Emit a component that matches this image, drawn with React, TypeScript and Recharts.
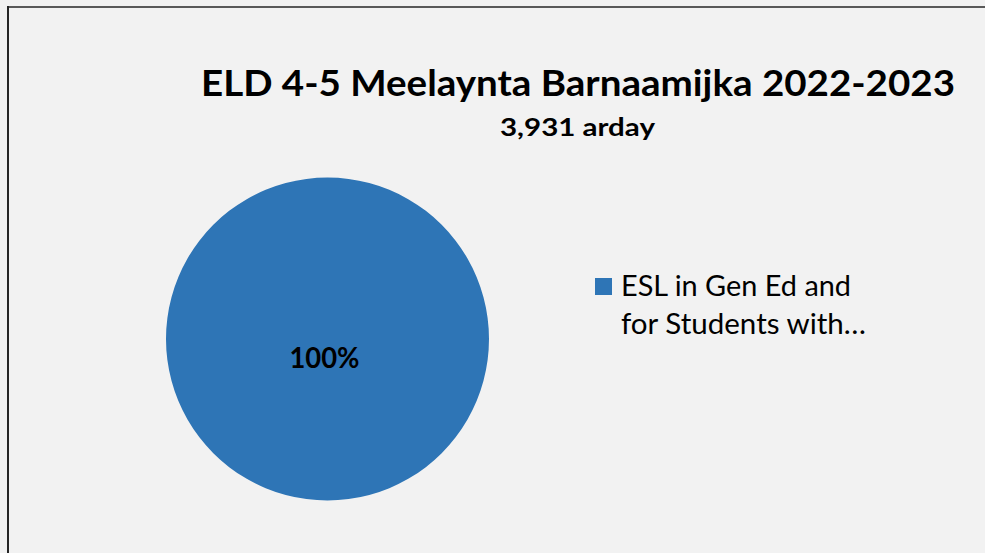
import { PieChart, Pie, Cell, Legend } from 'recharts';

const title = 'ELD 4-5 Meelaynta Barnaamijka 2022-2023';
const subtitle = '3,931 arday';
const categories = ['ESL in Gen Ed and for Students with…'];
const legendLines = ['ESL in Gen Ed and', 'for Students with…'];
const values = [3931];
const colors = ['#2E75B6'];

const data = categories.map((name, i) => ({ name, value: values[i] }));

const FONT = 'Lato, Carlito, Calibri, "Open Sans", sans-serif';
const RAD = Math.PI / 180;

function PctLabel(props: any) {
  const { cx, cy, midAngle, percent } = props;
  const r = 18;
  const x = cx + r * Math.cos(-midAngle * RAD) - 3;
  const y = cy + r * Math.sin(-midAngle * RAD);
  return (
    <text
      x={x}
      y={y}
      textAnchor="middle"
      dominantBaseline="central"
      fontFamily={FONT}
      fontWeight={700}
      fontSize={28}
      fill="#000"
      textLength={70}
      lengthAdjust="spacingAndGlyphs"
    >
      {`${Math.round(percent * 100)}%`}
    </text>
  );
}

function LegendBox() {
  return (
    <svg width={360} height={90} style={{ display: 'block', overflow: 'visible' }}>
      <rect x={5} y={8} width={17} height={17} fill={colors[0]} />
      <text x={31} y={26} fontFamily={FONT} fontSize={28} fill="#000" textLength={230} lengthAdjust="spacingAndGlyphs">
        {legendLines[0]}
      </text>
      <text x={31} y={64} fontFamily={FONT} fontSize={28} fill="#000" textLength={245} lengthAdjust="spacingAndGlyphs">
        {legendLines[1]}
      </text>
    </svg>
  );
}

export default function App() {
  return (
    <div style={{ position: 'fixed', left: 0, top: 0, width: 985, height: 553, background: '#f2f2f2', overflow: 'hidden' }}>
      <div style={{ position: 'absolute', left: 0, top: 0 }}>
        <PieChart width={985} height={553} margin={{ top: 0, right: 0, bottom: 0, left: 0 }}>
          <Pie
            data={data}
            dataKey="value"
            nameKey="name"
            cx={327.5}
            cy={339}
            outerRadius={161.5}
            startAngle={90}
            endAngle={-270}
            stroke="none"
            label={PctLabel}
            labelLine={false}
            isAnimationActive={false}
          >
            {data.map((d, i) => (
              <Cell key={d.name} fill={colors[i]} />
            ))}
          </Pie>
          <Legend
            layout="vertical"
            content={() => <LegendBox />}
            wrapperStyle={{ position: 'absolute', left: 590, top: 270, width: 360 }}
          />
        </PieChart>
      </div>
      <svg width={985} height={553} style={{ position: 'absolute', left: 0, top: 0, pointerEvents: 'none' }}>
        <line x1={7} y1={7} x2={985} y2={7} stroke="#595959" strokeWidth={2} />
        <line x1={8} y1={6} x2={8} y2={553} stroke="#262626" strokeWidth={2} />
        <text x={578} y={96} textAnchor="middle" fontFamily={FONT} fontWeight={700} fontSize={36} fill="#000" textLength={754} lengthAdjust="spacingAndGlyphs">
          {title}
        </text>
        <text x={577.5} y={136} textAnchor="middle" fontFamily={FONT} fontWeight={700} fontSize={25} fill="#000" textLength={155} lengthAdjust="spacingAndGlyphs">
          {subtitle}
        </text>
      </svg>
    </div>
  );
}
